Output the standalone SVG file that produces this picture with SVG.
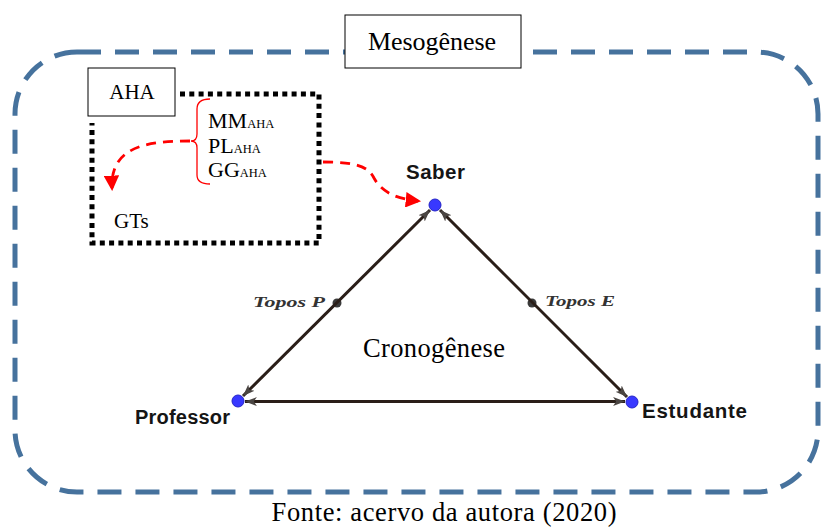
<svg xmlns="http://www.w3.org/2000/svg" width="822" height="528" viewBox="0 0 822 528">
<style>
.serif{font-family:"Liberation Serif","Times New Roman",serif;fill:#000}
.sans{font-family:"Liberation Sans",Arial,sans-serif;font-weight:bold;fill:#151515}
.topos{font-family:"Liberation Serif","Times New Roman",serif;font-style:italic;font-weight:bold;fill:#333}
.tri{stroke:#2a1e18;stroke-width:3;fill:none;marker-start:url(#ah);marker-end:url(#ah)}
.red{stroke:#f00;stroke-width:2.8;fill:none;stroke-dasharray:10 7}
.vtx{fill:#3838ff;stroke:#2424c8;stroke-width:1}
</style>
<defs>
<marker id="ah" viewBox="0 0 12 10" refX="12" refY="5" markerWidth="4" markerHeight="3.3" orient="auto-start-reverse" markerUnits="strokeWidth">
<path d="M0,0.5 L12,5 L0,9.5 L3,5 Z" fill="#4a4542"/>
</marker>
<marker id="rh" viewBox="0 0 10 10" refX="8" refY="5" markerWidth="5.5" markerHeight="5.5" orient="auto" markerUnits="strokeWidth">
<path d="M0,0 L10,5 L0,10 Z" fill="#f00"/>
</marker>
</defs>
<rect x="0" y="0" width="822" height="528" fill="#fff"/>
<g id="meso-frame">
<rect x="15" y="52" width="803" height="440" rx="62" ry="62" fill="none" stroke="#46729d" stroke-width="5" stroke-dasharray="24 14"/>
</g>
<g id="mesogenese">
<rect x="345" y="15" width="176" height="53" fill="#fff" stroke="#000" stroke-width="1"/>
<text class="serif" x="432" y="50" font-size="26" text-anchor="middle" textLength="128">Mesogênese</text>
</g>
<g id="aha-frame">
<path d="M180,94 H319 V243 H92 V123" fill="none" stroke="#000" stroke-width="5" stroke-dasharray="5 4.3"/>
</g>
<g id="aha">
<rect x="88" y="68" width="87" height="48" fill="#fff" stroke="#000" stroke-width="1"/>
<text class="serif" x="132" y="99" font-size="21" text-anchor="middle">AHA</text>
</g>
<g id="aha-list">
<path d="M210,99 Q197,99 197,109 V134 Q197,141 191,141 Q197,141 197,148 V175 Q197,184 210,184" fill="none" stroke="#f00" stroke-width="1.3"/>
<text class="serif" x="208" y="128" font-size="22">MM<tspan font-size="12.5">AHA</tspan></text>
<text class="serif" x="208" y="153" font-size="22">PL<tspan font-size="12.5">AHA</tspan></text>
<text class="serif" x="208" y="177" font-size="22">GG<tspan font-size="12.5">AHA</tspan></text>
</g>
<g id="gts">
<text class="serif" x="114" y="228" font-size="21">GTs</text>
</g>
<g id="saber">
<circle class="vtx" cx="435" cy="205" r="6"/>
<text class="sans" x="406" y="179" font-size="20.5" textLength="59">Saber</text>
</g>
<g id="professor">
<circle class="vtx" cx="238" cy="401" r="6"/>
<text class="sans" x="135" y="424" font-size="20" textLength="95">Professor</text>
</g>
<g id="estudante">
<circle class="vtx" cx="632" cy="402" r="6"/>
<text class="sans" x="642" y="418" font-size="20.5" textLength="105">Estudante</text>
</g>
<g id="topos-p">
<circle cx="337" cy="303" r="4.5" fill="#3a3a3a"/>
<text class="topos" x="253" y="307" font-size="14" textLength="72" lengthAdjust="spacingAndGlyphs">Topos P</text>
</g>
<g id="topos-e">
<circle cx="532" cy="303" r="4.5" fill="#3a3a3a"/>
<text class="topos" x="545" y="306" font-size="14" textLength="70" lengthAdjust="spacingAndGlyphs">Topos E</text>
</g>
<g id="cronogenese">
<text class="serif" x="434" y="357" font-size="26.5" text-anchor="middle" textLength="142">Cronogênese</text>
</g>
<g id="connectors">
<line class="tri" x1="430" y1="210" x2="243" y2="396"/>
<line class="tri" x1="440" y1="210" x2="627" y2="397"/>
<line class="tri" x1="245" y1="401.5" x2="625" y2="401.5"/>
<path class="red" d="M190,141 C150,141 110,145 112,188" marker-end="url(#rh)"/>
<path class="red" d="M323,162 C355,162 368,166 374,178 C382,193 398,199 418,201" marker-end="url(#rh)"/>
</g>
<g id="caption">
<text class="serif" x="444" y="521" font-size="26.5" text-anchor="middle" textLength="345">Fonte: acervo da autora (2020)</text>
</g>
</svg>
